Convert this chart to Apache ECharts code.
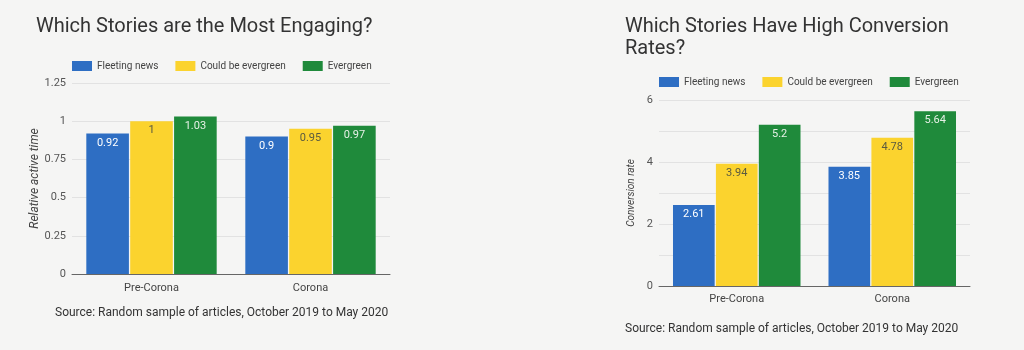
<!DOCTYPE html>
<html>
<head>
<meta charset="utf-8">
<script src="https://cdn.jsdelivr.net/npm/echarts@6/dist/echarts.min.js"></script>
<style>
  html, body { margin: 0; padding: 0; background: #f5f5f4; }
  #chart { width: 1024px; height: 350px; }
</style>
</head>
<body>
<div id="chart"></div>
<script>
// data
const categories = ['Pre-Corona', 'Corona']
const seriesNames = ['Fleeting news', 'Could be evergreen', 'Evergreen']
const engagingFleeting = [0.92, 0.9]
const engagingCould = [1, 0.95]
const engagingEver = [1.03, 0.97]
const conversionFleeting = [2.61, 3.85]
const conversionCould = [3.94, 4.78]
const conversionEver = [5.2, 5.64]

const colors = ['#2e6ec3', '#fbd32e', '#1f8a3b']
const labelColors = ['#ffffff', '#5a5a40', '#e6f0e6']
const font = 'Roboto, sans-serif'

const mychart = echarts.init(document.getElementById('chart'))

function barSeries(name, data, idx, axisIdx) {
  return {
    type: 'bar',
    name: name,
    data: data,
    xAxisIndex: axisIdx,
    yAxisIndex: axisIdx,
    barGap: '3%',
    barCategoryGap: '18%',
    itemStyle: { color: colors[idx] },
    label: {
      show: true,
      position: 'insideTop',
      distance: 4,
      fontSize: 11,
      fontFamily: font,
      color: labelColors[idx]
    }
  }
}

const yCommon = {
  type: 'value',
  axisLine: { show: false },
  axisTick: { show: false },
  axisLabel: { color: '#555', fontSize: 11, fontFamily: font, margin: 6 },
  splitLine: { lineStyle: { color: '#e2e2e2' } },
  nameLocation: 'middle',
  nameTextStyle: { fontStyle: 'italic', color: '#444', fontSize: 10, fontFamily: font }
}

const xCommon = {
  type: 'category',
  data: categories,
  axisTick: { show: false },
  axisLine: { lineStyle: { color: '#666', width: 1 } },
  axisLabel: { color: '#444', fontSize: 11, fontFamily: font, margin: 8 }
}

const legendCommon = {
  icon: 'rect',
  itemWidth: 20,
  itemHeight: 10,
  itemGap: 17,
  padding: 0,
  selectedMode: false,
  textStyle: { color: '#444', fontSize: 10, fontFamily: font }
}

const titleStyle = { fontSize: 20, fontWeight: 'normal', color: '#333', fontFamily: font, lineHeight: 22 }
const sourceStyle = { fontSize: 12, fontWeight: 'normal', color: '#333', fontFamily: font }

const option = {
  backgroundColor: '#f5f5f4',
  color: colors,
  title: [
    { text: 'Which Stories are the Most Engaging?', left: 36, top: 16, padding: 0, textStyle: titleStyle },
    { text: 'Which Stories Have High Conversion\nRates?', left: 625, top: 16, padding: 0, textStyle: titleStyle },
    { text: 'Source: Random sample of articles, October 2019 to May 2020', left: 55, top: 307, padding: 0, textStyle: sourceStyle },
    { text: 'Source: Random sample of articles, October 2019 to May 2020', left: 625, top: 323, padding: 0, textStyle: sourceStyle }
  ],
  legend: [
    Object.assign({}, legendCommon, { left: 72, top: 61, data: seriesNames }),
    Object.assign({}, legendCommon, { left: 659, top: 77, data: seriesNames })
  ],
  grid: [
    { left: 72, right: 634, top: 83, bottom: 76 },
    { left: 659, right: 54, top: 100, bottom: 64 }
  ],
  xAxis: [
    Object.assign({}, xCommon, { gridIndex: 0,
      axisLabel: Object.assign({}, xCommon.axisLabel, { margin: 9 }) }),
    Object.assign({}, xCommon, { gridIndex: 1 })
  ],
  yAxis: [
    Object.assign({}, yCommon, {
      gridIndex: 0, min: 0, max: 1.25, interval: 0.25,
      name: 'Relative active time', nameGap: 29,
      nameTextStyle: Object.assign({}, yCommon.nameTextStyle, { fontSize: 12 })
    }),
    Object.assign({}, yCommon, {
      gridIndex: 1, min: 0, max: 6, interval: 1,
      name: 'Conversion rate', nameGap: 23,
      axisLabel: Object.assign({}, yCommon.axisLabel, {
        formatter: v => (v % 2 === 0 ? String(v) : '')
      })
    })
  ],
  series: [
    barSeries(seriesNames[0], engagingFleeting, 0, 0),
    barSeries(seriesNames[1], engagingCould, 1, 0),
    barSeries(seriesNames[2], engagingEver, 2, 0),
    barSeries(seriesNames[0], conversionFleeting, 0, 1),
    barSeries(seriesNames[1], conversionCould, 1, 1),
    barSeries(seriesNames[2], conversionEver, 2, 1)
  ]
}

mychart.setOption(option)
</script>
</body>
</html>
